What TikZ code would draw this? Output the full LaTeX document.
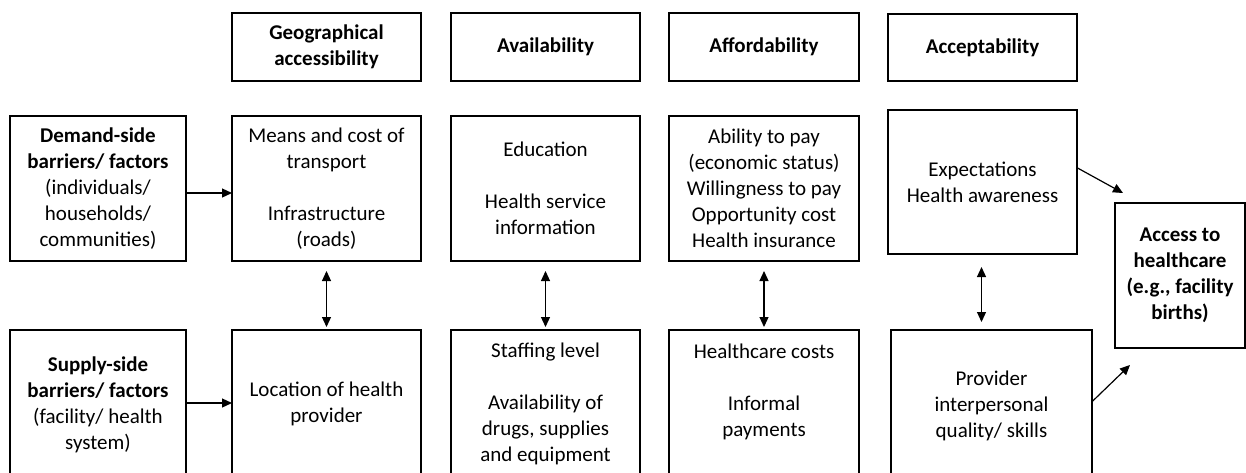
\documentclass[tikz,border=0pt]{standalone}
\usepackage{fontspec}
\setmainfont{Carlito}
\usetikzlibrary{arrows.meta}
\begin{document}
\begin{tikzpicture}[x=1pt,y=-1pt,
  box/.style={draw,line width=1.3pt,inner sep=0pt,outer sep=0pt,align=center,
    font=\fontsize{21}{26}\selectfont},
  txt/.style={inner sep=0pt,align=center,font=\fontsize{21}{26}\selectfont},
  hdr/.style={box,font=\fontsize{21}{26}\selectfont\bfseries},
  arr/.style={line width=1.2pt,-{Triangle[length=10pt,width=9pt]}},
  dbl/.style={line width=1.2pt,{Triangle[length=10pt,width=9pt]}-{Triangle[length=10pt,width=9pt]}}]
\useasboundingbox (0,0) rectangle (1246,472);
% headers
\node[hdr,minimum width=189pt,minimum height=68pt] (hGeo) at (326.5,47) {Geographical\\accessibility};
\node[hdr,minimum width=189pt,minimum height=68pt] (hAv) at (545.5,47) {Availability};
\node[hdr,minimum width=190pt,minimum height=68pt] (hAf) at (764,47) {Affordability};
\node[hdr,minimum width=189pt,minimum height=67pt] (hAc) at (982.5,47.5) {Acceptability};
% top row
\node[box,minimum width=176pt,minimum height=145pt] (dem) at (98,188.5) {\textbf{Demand-side}\\\textbf{barriers/ factors}\\(individuals/\\households/\\communities)};
\node[box,minimum width=189pt,minimum height=145pt] (tGeo) at (326.5,188.5) {Means and cost of\\transport\\\mbox{}\\Infrastructure\\(roads)};
\node[box,minimum width=189pt,minimum height=145pt] (tAv) at (545.5,188.5) {Education\\\mbox{}\\Health service\\information};
\node[box,minimum width=190pt,minimum height=145pt] (tAf) at (764,188.5) {Ability to pay\\(economic status)\\Willingness to pay\\Opportunity cost\\Health insurance};
\node[box,minimum width=189pt,minimum height=144pt] (tAc) at (982.5,182) {Expectations\\Health awareness};
% access box
\node[box,font=\fontsize{21}{26}\selectfont\bfseries,minimum width=130pt,minimum height=145pt] (acc) at (1180,275.5) {Access to\\healthcare\\(e.g., facility\\births)};
% bottom row boxes
\node[box,minimum width=176pt,minimum height=150pt] (sup) at (98,405) {};
\node[box,minimum width=189pt,minimum height=150pt] (bGeo) at (326.5,405) {};
\node[box,minimum width=189pt,minimum height=150pt] (bAv) at (545.5,405) {};
\node[box,minimum width=190pt,minimum height=150pt] (bAf) at (764,405) {};
\node[box,minimum width=201pt,minimum height=150pt] (bAc) at (991.5,405) {};
% bottom texts
\node[txt] (supT) at (98,404.5) {\textbf{Supply-side}\\\textbf{barriers/ factors}\\(facility/ health\\system)};
\node[txt] (bGeoT) at (326.5,404) {Location of health\\provider};
\node[txt] (bAvT) at (545.5,404) {Staffing level\\\mbox{}\\Availability of\\drugs, supplies\\and equipment};
\node[txt] (bAfT) at (764,391.5) {Healthcare costs\\\mbox{}\\Informal\\payments};
\node[txt] (bAcT) at (991.5,405.5) {Provider\\interpersonal\\quality/ skills};
% connectors
\draw[arr] ([yshift=-4.5pt]dem.east) -- ([yshift=-4.5pt]tGeo.west);
\draw[arr] ([yshift=2pt]sup.east) -- ([yshift=2pt]bGeo.west);
\draw[dbl,shorten <=10pt,shorten >=3pt] (tGeo.south) -- (bGeo.north);
\draw[dbl,shorten <=10pt,shorten >=3pt] (tAv.south) -- (bAv.north);
\draw[dbl,shorten <=10pt,shorten >=3pt] (tAf.south) -- (bAf.north);
\draw[dbl,shorten <=13pt,shorten >=8pt] ([xshift=-1pt]tAc.south) -- ([xshift=-1pt]tAc.south |- bAc.north);
\coordinate (a1) at (1123,193);
\coordinate (a2) at (1130,365);
\draw[arr] ([yshift=14.3pt]tAc.east) -- (a1);
\draw[arr] ([yshift=3.3pt]bAc.east) -- (a2);
\end{tikzpicture}
\end{document}
